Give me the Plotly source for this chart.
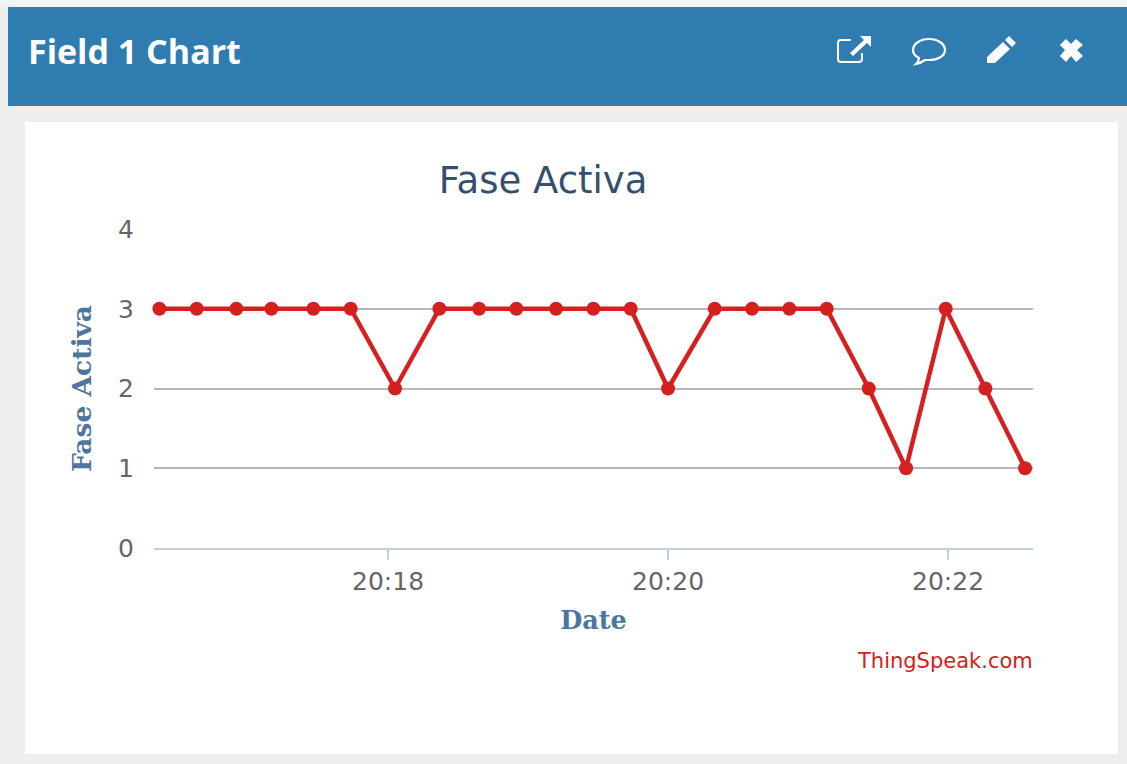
import plotly.graph_objects as go

# ---- data ----
times = ["20:16:22", "20:16:38", "20:16:55", "20:17:10", "20:17:28", "20:17:44",
         "20:18:03", "20:18:22", "20:18:39", "20:18:55", "20:19:12", "20:19:28",
         "20:19:44", "20:20:00", "20:20:20", "20:20:36", "20:20:52", "20:21:08",
         "20:21:26", "20:21:42", "20:21:59", "20:22:16", "20:22:33"]
values = [3, 3, 3, 3, 3, 3, 2, 3, 3, 3, 3, 3, 3, 2, 3, 3, 3, 3, 2, 1, 3, 2, 1]
y_ticks = [0, 1, 2, 3, 4]
x_ticks = ["20:18:00", "20:20:00", "20:22:00"]
x_tick_text = ["20:18", "20:20", "20:22"]
title_text = "Fase Activa"
x_title = "Date"
y_title = "Fase Activa"
header_text = "Field 1 Chart"
credit_text = "ThingSpeak.com"
day = "2017-01-01 "

W, H = 1127, 764
FONT = "DejaVu Sans"


def fx(px):
    return px / W


def fy(py):
    return 1 - py / H


def path(cmds):
    """cmds: list of (letter, x1, y1, x2, y2, ...) in page pixels -> paper path."""
    out = []
    for c in cmds:
        if len(c) == 1:
            out.append(c[0])
            continue
        nums = []
        for i in range(1, len(c), 2):
            nums.append(f"{fx(c[i]):.5f},{fy(c[i + 1]):.5f}")
        out.append(c[0] + " " + " ".join(nums))
    return " ".join(out)


def rect(x0, y0, x1, y1, color):
    return dict(type="rect", xref="paper", yref="paper", layer="below",
                x0=fx(x0), x1=fx(x1), y0=fy(y0), y1=fy(y1),
                fillcolor=color, line=dict(width=0))


def icon(cmds, fill=None, width=0):
    s = dict(type="path", xref="paper", yref="paper", layer="above", path=path(cmds),
             line=dict(color="#ffffff", width=width))
    if fill:
        s["fillcolor"] = fill
    return s


shapes = [
    rect(0, 0, W, H, "#eeeeee"),
    rect(0, 0, W, 6, "#f4f4f4"),
    rect(8, 7, W, 106, "#2e7cb0"),
    rect(25, 122, 1118, 754, "#ffffff"),
    # external link icon
    icon([("M", 851, 40), ("L", 841, 40), ("Q", 838, 40, 838, 43), ("L", 838, 59),
          ("Q", 838, 62, 841, 62), ("L", 859, 62), ("Q", 862, 62, 862, 59), ("L", 862, 53)], width=2),
    icon([("M", 860, 36), ("L", 871, 36), ("L", 871, 47), ("L", 867, 43), ("L", 853, 56),
          ("L", 850, 53), ("L", 864, 40), ("Z",)], fill="#ffffff"),
    # comment icon
    icon([("M", 929, 39), ("C", 938, 39, 945, 44, 945, 50), ("C", 945, 56, 938, 60, 929, 60),
          ("L", 925, 60), ("Q", 921, 63, 916, 64), ("Q", 919, 61, 919, 58),
          ("C", 915, 56, 913, 53, 913, 50), ("C", 913, 44, 920, 39, 929, 39), ("Z",)], width=2.2),
    # pencil icon
    icon([("M", 1009, 36), ("L", 1016, 43), ("L", 1012, 47), ("L", 1005, 40), ("Z",)], fill="#ffffff"),
    icon([("M", 1003, 42), ("L", 1010, 49), ("L", 995, 63), ("L", 987, 63), ("L", 987, 57), ("Z",)], fill="#ffffff"),
    # close icon
    icon([("M", 1066, 39), ("L", 1071, 44), ("L", 1076, 39), ("L", 1083, 45), ("L", 1077, 50),
          ("L", 1083, 56), ("L", 1076, 62), ("L", 1071, 56), ("L", 1066, 62), ("L", 1060, 56),
          ("L", 1065, 50), ("L", 1060, 45), ("Z",)], fill="#ffffff"),
]

fig = go.Figure(go.Scatter(
    x=[day + t for t in times],
    y=values,
    mode="lines+markers",
    cliponaxis=False,
    line=dict(color="#d62020", width=4.5),
    marker=dict(color="#d62020", size=14),
    hoverinfo="x+y",
))

fig.update_layout(
    width=W, height=H,
    margin=dict(l=0, r=0, t=0, b=0, pad=0, autoexpand=False),
    autosize=False,
    showlegend=False,
    paper_bgcolor="#ffffff",
    plot_bgcolor="rgba(0,0,0,0)",
    shapes=shapes,
    font=dict(family=FONT),
    title=dict(text=title_text, x=543 / W, xanchor="center", y=fy(180), yanchor="middle",
               automargin=False,
               font=dict(size=37, color="#34506e", family=FONT)),
    xaxis=dict(
        domain=[fx(154), fx(1033)],
        range=[day + "20:16:19.7", day + "20:22:36.4"],
        type="date",
        automargin=False,
        tickmode="array",
        tickvals=[day + t for t in x_ticks],
        ticktext=x_tick_text,
        ticks="outside", ticklen=10, tickwidth=1.5, tickcolor="#c0d0e0",
        tickfont=dict(size=25, color="#666666", family=FONT),
        showgrid=False, zeroline=False,
        showline=True, linecolor="#c0d0e0", linewidth=2,
        title=dict(text=f"<b>{x_title}</b>", standoff=16,
                   font=dict(size=25.5, color="#4d759e", family="DejaVu Serif")),
    ),
    yaxis=dict(
        domain=[fy(548), fy(229)],
        range=[0, 4],
        automargin=False,
        tickmode="array",
        tickvals=y_ticks,
        ticks="", ticklabelstandoff=19,
        tickfont=dict(size=25, color="#666666", family=FONT),
        showgrid=True, gridcolor="#b8b8b8", gridwidth=1.5,
        zeroline=False, showline=False,
        title=dict(text=f"<b>{y_title}</b>", standoff=18,
                   font=dict(size=26.5, color="#4d759e", family="DejaVu Serif")),
    ),
    annotations=[
        dict(text=credit_text, xref="paper", yref="paper", x=fx(1035), y=fy(661),
             xanchor="right", yanchor="middle", showarrow=False,
             font=dict(size=21, color="#d62020", family=FONT)),
        dict(text=f"<b>{header_text}</b>", xref="paper", yref="paper", x=fx(26), y=fy(51),
             xanchor="left", yanchor="middle", showarrow=False,
             font=dict(size=34, color="#ffffff", family="Open Sans")),
    ],
)

fig.write_html("out.html", config=dict(displayModeBar=False),
               post_script="document.body.style.margin='0';document.body.style.overflow='hidden';")
